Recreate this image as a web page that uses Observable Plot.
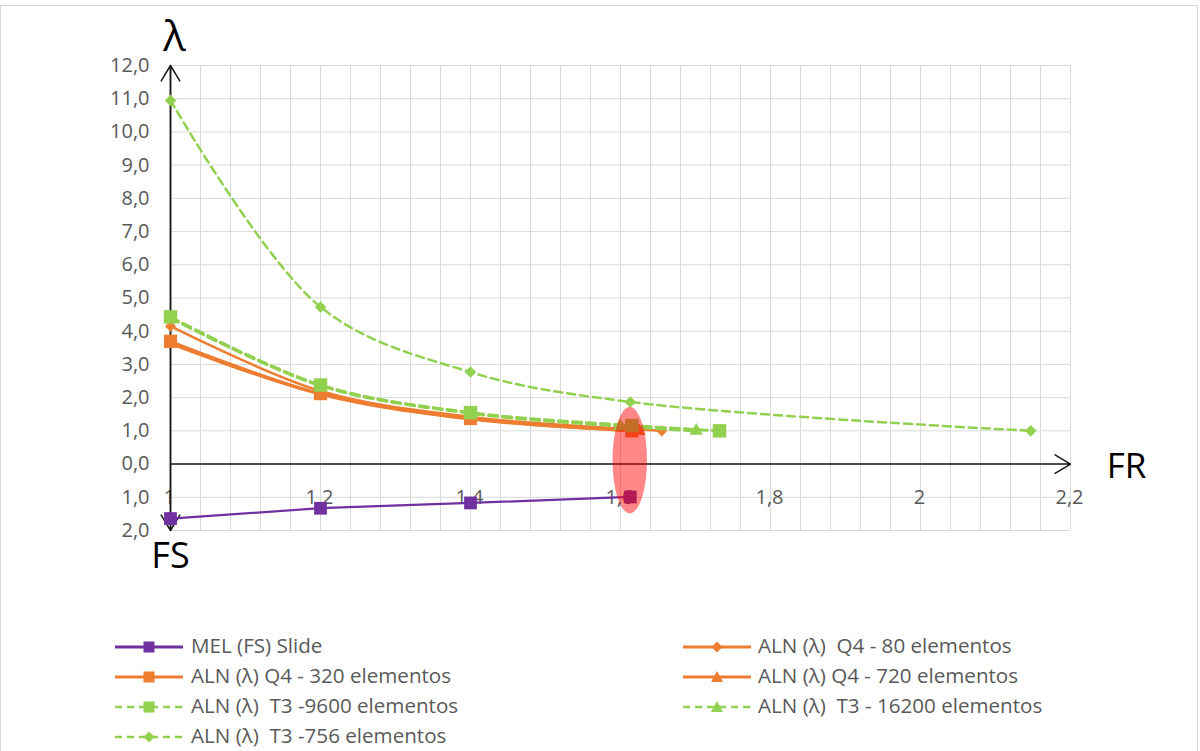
<!DOCTYPE html>
<html>
<head>
<meta charset="utf-8">
<script src="https://cdn.jsdelivr.net/npm/d3@7"></script>
<script src="https://cdn.jsdelivr.net/npm/@observablehq/plot@0.6"></script>
<style>
  body { margin: 0; background: #fff; font-family: "Open Sans", sans-serif; }
  #frame { position: absolute; left: 0; top: 5px; width: 1198px; height: 800px; border: 1px solid #d9d9d9; box-sizing: border-box; }
  #chart { position: absolute; left: 0; top: 0; }
  .item { position: absolute; height: 30px; display: flex; align-items: center; font-size: 20.6px; color: #595959; white-space: pre; }
  .item svg { position: absolute; left: 0; top: 7px; }
  .item span { position: absolute; top: -1px; }
</style>
</head>
<body>
<div id="frame"></div>
<div id="chart"></div>
<div id="legend"></div>
<script>
// FR (reduction factor) positions and values for each series
const melFR = [1, 1.2, 1.4, 1.613];
const melFS = [1.64, 1.33, 1.17, 0.99];

const q4_80FR = [1, 1.2, 1.4, 1.655];
const q4_80L = [4.15, 2.2, 1.42, 1.0];

const q4_320FR = [1, 1.2, 1.4, 1.615];
const q4_320L = [3.7, 2.12, 1.37, 1.0];

const q4_720FR = [1, 1.2, 1.4, 1.625];
const q4_720L = [3.62, 2.1, 1.35, 0.99];

const t3_9600FR = [1, 1.2, 1.4, 1.615, 1.732];
const t3_9600L = [4.43, 2.38, 1.55, 1.16, 1.0];

const t3_16200FR = [1, 1.2, 1.4, 1.6, 1.701];
const t3_16200L = [4.4, 2.36, 1.53, 1.14, 1.0];

const t3_756FR = [1, 1.2, 1.4, 1.613, 2.147];
const t3_756L = [10.95, 4.73, 2.77, 1.87, 1.0];

// axis ticks
const xTickValues = [1, 1.2, 1.4, 1.6, 1.8, 2, 2.2];
const xTickLabels = ["1", "1,2", "1,4", "1,6", "1,8", "2", "2,2"];
const yTickValues = [-2, -1, 0, 1, 2, 3, 4, 5, 6, 7, 8, 9, 10, 11, 12];
const yTickLabels = ["2,0", "1,0", "0,0", "1,0", "2,0", "3,0", "4,0", "5,0", "6,0", "7,0", "8,0", "9,0", "10,0", "11,0", "12,0"];
const xMinorGrid = d3.range(31).map(i => +(1 + i * 0.04).toFixed(2));

// highlighted region around FR ≈ 1,6
const highlight = { fr: 1.613, value: 0.1, halfFR: 0.023, halfValue: 1.6 };

const PURPLE = "#7030A0", ORANGE = "#ED7D31", GREEN = "#92D050";

// FS is drawn downward (negative side of the vertical axis)
const series = [
  { name: "MEL (FS) Slide", fr: melFR, v: melFS.map(d => -d), color: PURPLE, symbol: "square", r: 7.2, dash: null, width: 2.25, curve: "linear" },
  { name: "ALN (λ)  Q4 - 80 elementos", fr: q4_80FR, v: q4_80L, color: ORANGE, symbol: "diamond2", r: 5, dash: null, width: 2.5, curve: "catmull-rom" },
  { name: "ALN (λ) Q4 - 320 elementos", fr: q4_320FR, v: q4_320L, color: ORANGE, symbol: "square", r: 7.4, dash: null, width: 2.75, curve: "catmull-rom" },
  { name: "ALN (λ) Q4 - 720 elementos", fr: q4_720FR, v: q4_720L, color: ORANGE, symbol: "triangle", r: 5, dash: null, width: 2.75, curve: "catmull-rom" },
  { name: "ALN (λ)  T3 -9600 elementos", fr: t3_9600FR, v: t3_9600L, color: GREEN, symbol: "square", r: 7.6, dash: "9,5", width: 3, curve: "catmull-rom" },
  { name: "ALN (λ)  T3 - 16200 elementos", fr: t3_16200FR, v: t3_16200L, color: GREEN, symbol: "triangle", r: 5, dash: "9,5", width: 3, curve: "catmull-rom" },
  { name: "ALN (λ)  T3 -756 elementos", fr: t3_756FR, v: t3_756L, color: GREEN, symbol: "diamond2", r: 5.2, dash: "8,5", width: 2.5, curve: "catmull-rom" }
];

const rows = s => s.fr.map((x, i) => ({ x, y: s.v[i] }));

const seriesMarks = series.flatMap(s => [
  Plot.line(rows(s), { x: "x", y: "y", stroke: s.color, strokeWidth: s.width, strokeDasharray: s.dash, curve: s.curve }),
  Plot.dot(rows(s), { x: "x", y: "y", symbol: () => s.symbol, r: s.r, fill: s.color, stroke: "none" })
]);

// translucent red ellipse, placed with the plot's scales
function highlightMark(index, scales) {
  const { x, y } = scales;
  const el = document.createElementNS("http://www.w3.org/2000/svg", "ellipse");
  el.setAttribute("cx", x(highlight.fr));
  el.setAttribute("cy", y(highlight.value));
  el.setAttribute("rx", Math.abs(x(highlight.fr + highlight.halfFR) - x(highlight.fr)));
  el.setAttribute("ry", Math.abs(y(highlight.value + highlight.halfValue) - y(highlight.value)));
  el.setAttribute("fill", "#ff0000");
  el.setAttribute("fill-opacity", "0.47");
  return el;
}

const chart = Plot.plot({
  width: 1200,
  height: 600,
  marginLeft: 170,
  marginRight: 130,
  marginTop: 65,
  marginBottom: 70,
  x: { domain: [1, 2.2], axis: null },
  y: { domain: [-2, 12], axis: null },
  style: { fontFamily: "'Open Sans', sans-serif", fontSize: "20px", background: "transparent", overflow: "visible" },
  marks: [
    Plot.ruleX(xMinorGrid, { stroke: "#d9d9d9", strokeWidth: 1 }),
    Plot.ruleY(yTickValues, { stroke: "#d9d9d9", strokeWidth: 1 }),
    Plot.text(yTickValues, { x: 1, y: d => d, text: (d, i) => yTickLabels[i], textAnchor: "end", dx: -21, fill: "#595959" }),
    Plot.text(xTickValues, { x: d => d, y: -1, text: (d, i) => xTickLabels[i], fill: "#595959", dx: -1 }),
    // axes with open arrowheads
    Plot.arrow([{ x1: 1, y1: 0, x2: 2.2, y2: 0 }], { x1: "x1", y1: "y1", x2: "x2", y2: "y2", stroke: "#1a1a1a", strokeWidth: 1.5, headLength: 18, headAngle: 62 }),
    Plot.arrow([{ x1: 1, y1: -2, x2: 1, y2: 12 }], { x1: "x1", y1: "y1", x2: "x2", y2: "y2", stroke: "#1a1a1a", strokeWidth: 1.5, headLength: 18, headAngle: 62 }),
    Plot.arrow([{ x1: 1, y1: 12, x2: 1, y2: -2 }], { x1: "x1", y1: "y1", x2: "x2", y2: "y2", stroke: "#1a1a1a", strokeWidth: 1.5, headLength: 18, headAngle: 62 }),
    ...seriesMarks,
    highlightMark,
    // axis names
    Plot.text(["λ"], { x: 1, y: 12, text: d => d, dy: -28, dx: 4, fontSize: 42, fill: "#000" }),
    Plot.text(["FR"], { x: 2.2, y: 0, text: d => d, dx: 56, dy: 3, fontSize: 35, fill: "#000" }),
    Plot.text(["FS"], { x: 1, y: -2, text: d => d, dy: 26, fontSize: 36, fill: "#000" })
  ]
});
document.getElementById("chart").appendChild(chart);

// legend below the plot
const legendPos = [
  { left: 115, textLeft: 191, top: 632 },
  { left: 683, textLeft: 758, top: 632 },
  { left: 115, textLeft: 191, top: 662 },
  { left: 683, textLeft: 758, top: 662 },
  { left: 115, textLeft: 191, top: 692 },
  { left: 683, textLeft: 758, top: 692 },
  { left: 115, textLeft: 191, top: 722 }
];
const legend = document.getElementById("legend");
series.forEach((s, i) => {
  const p = legendPos[i];
  const item = document.createElement("div");
  item.className = "item";
  item.style.left = p.left + "px";
  item.style.top = p.top + "px";
  const w = 68, cy = 8;
  let marker;
  if (s.symbol === "square") marker = `<rect x="${w / 2 - 5.5}" y="${cy - 5.5}" width="11" height="11" fill="${s.color}"/>`;
  else if (s.symbol === "diamond2") marker = `<path d="M${w / 2},${cy - 5.5}L${w / 2 + 5.5},${cy}L${w / 2},${cy + 5.5}L${w / 2 - 5.5},${cy}Z" fill="${s.color}"/>`;
  else marker = `<path d="M${w / 2},${cy - 6}L${w / 2 + 6},${cy + 5}L${w / 2 - 6},${cy + 5}Z" fill="${s.color}"/>`;
  item.innerHTML = `<svg width="${w}" height="16"><line x1="0" x2="${w}" y1="${cy}" y2="${cy}" stroke="${s.color}" stroke-width="${s.dash ? 2.5 : 3}" ${s.dash ? 'stroke-dasharray="7,5"' : ""}/>${marker}</svg>` +
    `<span style="left:${p.textLeft - p.left}px">${s.name}</span>`;
  legend.appendChild(item);
});
</script>
</body>
</html>
